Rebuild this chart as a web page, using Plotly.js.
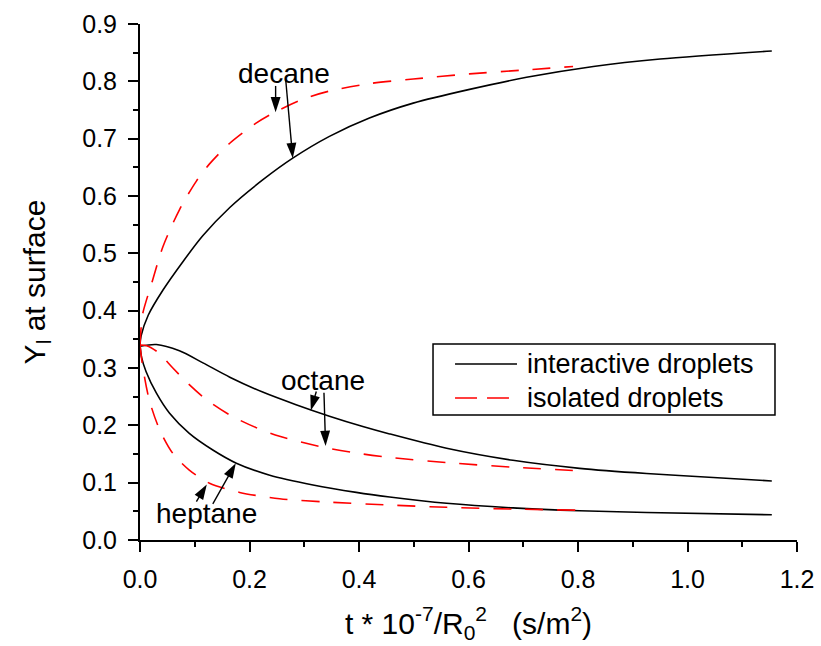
<!DOCTYPE html>
<html>
<head>
<meta charset="utf-8">
<script src="https://cdn.plot.ly/plotly-3.0.1.min.js"></script>
<style>
  html, body { margin: 0; padding: 0; background: #fff; }
  #chart { width: 821px; height: 646px; }
</style>
</head>
<body>
<div id="chart"></div>
<script>
// Surface mass fraction of each fuel vs. normalised time
const decaneInterX = [0, 0.002, 0.015, 0.042, 0.078, 0.115, 0.164, 0.224, 0.279, 0.346, 0.419, 0.499, 0.602, 0.706, 0.828, 0.950, 1.154];
const decaneInterY = [0.34, 0.356, 0.392, 0.436, 0.485, 0.531, 0.580, 0.628, 0.666, 0.704, 0.736, 0.762, 0.786, 0.807, 0.826, 0.839, 0.853];

const decaneIsoX = [0, 0.002, 0.005, 0.023, 0.042, 0.072, 0.103, 0.127, 0.164, 0.212, 0.246, 0.298, 0.346, 0.419, 0.499, 0.602, 0.706, 0.791];
const decaneIsoY = [0.34, 0.37, 0.395, 0.453, 0.512, 0.576, 0.626, 0.656, 0.692, 0.727, 0.746, 0.769, 0.783, 0.796, 0.804, 0.813, 0.820, 0.826];

const octaneInterX = [0, 0.030, 0.072, 0.115, 0.164, 0.224, 0.285, 0.346, 0.407, 0.456, 0.560, 0.681, 0.803, 0.925, 1.047, 1.154];
const octaneInterY = [0.338, 0.341, 0.330, 0.309, 0.284, 0.258, 0.236, 0.216, 0.198, 0.185, 0.160, 0.139, 0.125, 0.116, 0.109, 0.103];

const octaneIsoX = [0, 0.012, 0.032, 0.060, 0.090, 0.121, 0.164, 0.212, 0.255, 0.334, 0.407, 0.456, 0.560, 0.681, 0.797];
const octaneIsoY = [0.34, 0.339, 0.328, 0.300, 0.271, 0.245, 0.218, 0.196, 0.181, 0.162, 0.150, 0.144, 0.135, 0.127, 0.121];

const heptaneInterX = [0, 0.003, 0.011, 0.030, 0.054, 0.090, 0.133, 0.176, 0.237, 0.316, 0.395, 0.456, 0.560, 0.681, 0.803, 0.925, 1.154];
const heptaneInterY = [0.34, 0.318, 0.294, 0.256, 0.221, 0.186, 0.157, 0.134, 0.113, 0.096, 0.083, 0.075, 0.064, 0.056, 0.051, 0.048, 0.044];

const heptaneIsoX = [0, 0.005, 0.017, 0.036, 0.060, 0.090, 0.127, 0.182, 0.255, 0.346, 0.456, 0.560, 0.681, 0.797];
const heptaneIsoY = [0.34, 0.302, 0.244, 0.192, 0.151, 0.122, 0.099, 0.083, 0.072, 0.066, 0.061, 0.057, 0.054, 0.052];

const seriesNames = ['interactive droplets', 'isolated droplets'];

// fuel labels and their pointer arrows (tail -> tip), data units
const fuelLabels = ['decane', 'octane', 'heptane'];
const labelX = [0.2636, 0.3336, 0.1210];
const labelY = [0.814, 0.279, 0.046];
const arrowTailX = [0.2477, 0.2660, 0.3220, 0.3360, 0.1030, 0.1330];
const arrowTailY = [0.792, 0.804, 0.259, 0.257, 0.067, 0.063];
const arrowTipX = [0.2477, 0.2790, 0.3120, 0.3390, 0.1220, 0.1750];
const arrowTipY = [0.746, 0.666, 0.226, 0.164, 0.097, 0.134];

const FONT = 'Liberation Sans, Arial, sans-serif';

const solid = { color: '#000000', width: 1.6, shape: 'spline', smoothing: 0.8 };
const dashed = { color: '#ff0000', width: 1.6, dash: '18px,14px', shape: 'spline', smoothing: 0.8 };

function curve(x, y, line, idx) {
  return { x: x, y: y, type: 'scatter', mode: 'lines', line: line,
           name: seriesNames[idx], showlegend: false, hoverinfo: 'x+y' };
}

const data = [
  curve(decaneInterX, decaneInterY, solid, 0),
  curve(octaneInterX, octaneInterY, solid, 0),
  curve(heptaneInterX, heptaneInterY, solid, 0),
  curve(decaneIsoX, decaneIsoY, dashed, 1),
  curve(octaneIsoX, octaneIsoY, dashed, 1),
  curve(heptaneIsoX, heptaneIsoY, dashed, 1)
];

// pointer arrows: a short line ending in an arrow marker at the tip
for (let i = 0; i < arrowTailX.length; i++) {
  data.push({
    x: [arrowTailX[i], arrowTipX[i]], y: [arrowTailY[i], arrowTipY[i]],
    type: 'scatter', mode: 'lines+markers', showlegend: false, hoverinfo: 'skip',
    line: { color: '#000', width: 1.4 },
    marker: { symbol: 'arrow', size: [0, 16], angleref: 'previous', color: '#000000', opacity: 1, line: { width: 0 } }
  });
}

const annotations = fuelLabels.map((t, i) => ({
  x: labelX[i], y: labelY[i], xref: 'x', yref: 'y', text: t, showarrow: false,
  xanchor: 'center', yanchor: 'middle', font: { family: FONT, size: 28, color: '#000' }
}));

// legend box drawn in paper units of the plot area
const LEG = { x0: 0.446, x1: 0.9665, y0: 0.2422, y1: 0.3798, lineX0: 0.4795, lineX1: 0.5738, textX: 0.586, row1: 0.3411, row2: 0.2752 };
annotations.push(
  { xref: 'paper', yref: 'paper', x: LEG.textX, y: LEG.row1, text: seriesNames[0], showarrow: false,
    xanchor: 'left', yanchor: 'middle', font: { family: FONT, size: 27, color: '#000' } },
  { xref: 'paper', yref: 'paper', x: LEG.textX, y: LEG.row2, text: seriesNames[1], showarrow: false,
    xanchor: 'left', yanchor: 'middle', font: { family: FONT, size: 27, color: '#000' } }
);
const shapes = [
  { type: 'rect', xref: 'paper', yref: 'paper', x0: LEG.x0, x1: LEG.x1, y0: LEG.y0, y1: LEG.y1,
    line: { color: '#000', width: 1.5 }, fillcolor: '#ffffff', layer: 'above' },
  { type: 'line', xref: 'paper', yref: 'paper', x0: LEG.lineX0, x1: LEG.lineX1, y0: LEG.row1, y1: LEG.row1,
    line: { color: '#000', width: 1.6 }, layer: 'above' },
  { type: 'line', xref: 'paper', yref: 'paper', x0: LEG.lineX0, x1: 0.5616, y0: LEG.row2, y1: LEG.row2,
    line: { color: '#ff0000', width: 1.6, dash: '22px,10px' }, layer: 'above' }
];

const layout = {
  width: 821, height: 646,
  margin: { l: 140, r: 24, t: 24, b: 106, pad: 0 },
  paper_bgcolor: '#ffffff', plot_bgcolor: '#ffffff',
  showlegend: false,
  xaxis: {
    range: [0, 1.2], dtick: 0.2, tick0: 0, tickformat: '.1f',
    showgrid: false, zeroline: false, showline: true, linecolor: '#000', linewidth: 2,
    ticks: 'outside', ticklen: 10, tickwidth: 2, tickcolor: '#000',
    minor: { dtick: 0.1, ticks: 'outside', ticklen: 5, tickwidth: 2, tickcolor: '#000' },
    tickfont: { family: FONT, size: 25, color: '#000' },
    ticklabelstandoff: 6,
    title: { text: 't * 10<sup>-7</sup>/R<sub>0</sub><sup>2</sup>   (s/m<sup>2</sup>)', font: { family: FONT, size: 30, color: '#000' }, standoff: 21 },
    fixedrange: true
  },
  yaxis: {
    range: [0, 0.9], dtick: 0.1, tick0: 0, tickformat: '.1f',
    showgrid: false, zeroline: false, showline: true, linecolor: '#000', linewidth: 2,
    ticks: 'outside', ticklen: 10, tickwidth: 2, tickcolor: '#000',
    minor: { dtick: 0.05, ticks: 'outside', ticklen: 5, tickwidth: 2, tickcolor: '#000' },
    tickfont: { family: FONT, size: 25, color: '#000' },
    ticklabelstandoff: 6,
    title: { text: 'Y<sub>l</sub> at surface', font: { family: FONT, size: 30, color: '#000' }, standoff: 28 },
    fixedrange: true
  },
  annotations: annotations,
  shapes: shapes
};

Plotly.newPlot('chart', data, layout, { displayModeBar: false, staticPlot: true });
</script>
</body>
</html>
